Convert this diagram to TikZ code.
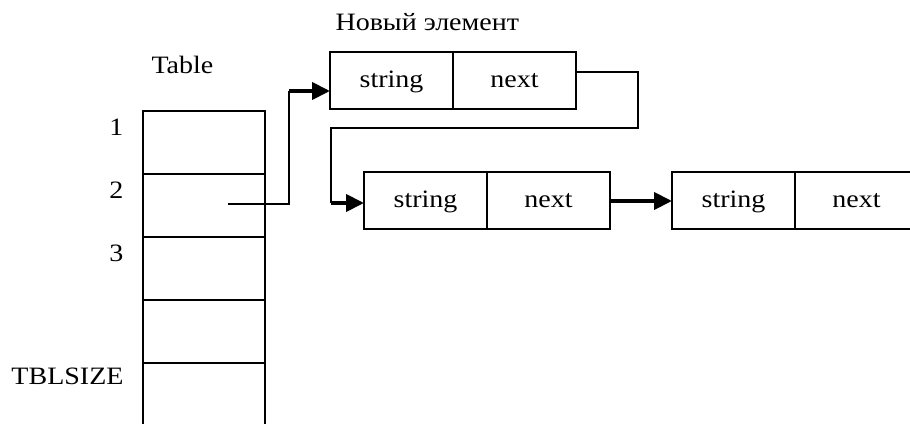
\documentclass[tikz,border=0pt]{standalone}
\usepackage{fontspec}
\setmainfont{Liberation Serif}[FakeStretch=1.12]
\usetikzlibrary{arrows.meta,positioning}

\begin{document}
\begin{tikzpicture}[x=1pt,y=1pt,
  every node/.style={font=\fontsize{25}{30}\selectfont},
  cellbox/.style={draw, line width=2pt, outer sep=0pt, inner sep=0pt,
    minimum width=122pt, minimum height=63pt},
  fieldbox/.style={draw, line width=2pt, outer sep=0pt, inner sep=0pt,
    minimum width=123pt, minimum height=57pt, text height=17pt, text depth=3pt},
  link/.style={line width=2pt},
  ptrarrow/.style={line width=4pt, -{Triangle[length=18pt,width=17pt]}}]
\useasboundingbox (0,0) rectangle (910,423);
\clip (0,0) rectangle (910,423);
% hash table
\foreach \i in {1,...,5}
  \node[cellbox] (cell\i) at (204,343.5-63*\i) {};
\foreach \i in {1,2,3}
  \node[anchor=base east] (num\i) at ([xshift=-16pt,yshift=6.5pt]cell\i.west) {\i};
\node[anchor=base east] (lastnum) at ([xshift=-16pt,yshift=9.5pt]cell5.west) {TBLSIZE};
\node[anchor=base west] (tablename) at ([xshift=5pt,yshift=37pt]cell1.north west) {Table};
% list elements
\node[fieldbox] (str1) at (391.5,342.5) {string};
\node[fieldbox, right=0pt of str1] (nxt1) {next};
\node[fieldbox] (str2) at (425.5,222) {string};
\node[fieldbox, right=0pt of str2] (nxt2) {next};
\node[fieldbox] (str3) at (733.5,222) {string};
\node[fieldbox, right=0pt of str3] (nxt3) {next};
\node[anchor=base west] (newname) at ([xshift=2pt,yshift=21pt]str1.north west) {Новый элемент};
% pointers
\coordinate (from2) at ([xshift=24pt,yshift=1.5pt]cell2.center);
\coordinate (up2) at (289,332);
\draw[link] (from2) -| (up2);
\draw[ptrarrow] (up2) -- (up2 -| str1.west);
\coordinate (out1) at ([yshift=8.5pt]nxt1.east);
\coordinate (turn1) at (638,295);
\coordinate (down1) at (331,220);
\draw[link] (out1) -| (turn1) -| (down1);
\draw[ptrarrow] (down1) -- (down1 -| str2.west);
\draw[ptrarrow] (nxt2) -- (str3);
\end{tikzpicture}
\end{document}
